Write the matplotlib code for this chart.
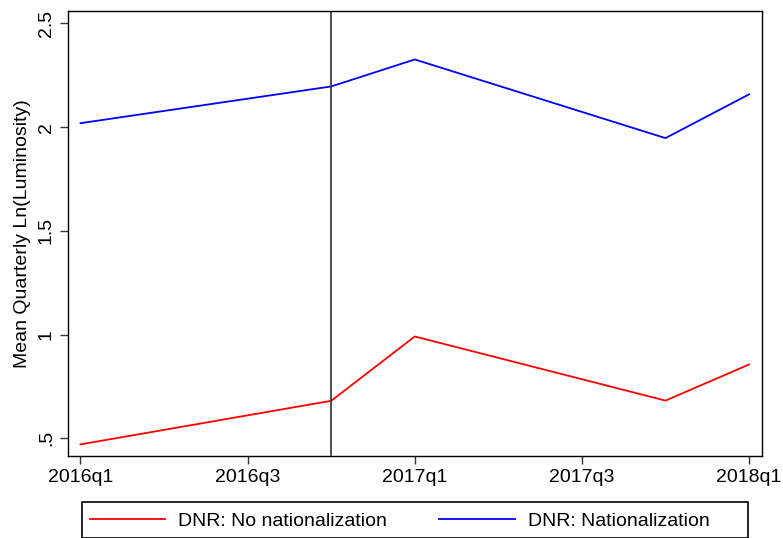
import numpy as np
import matplotlib.pyplot as plt
from matplotlib.patches import Rectangle

plt.rcParams['font.family'] = ['Liberation Sans', 'DejaVu Sans']

# quarters since 2016q1
quarters = [0, 3, 4, 7, 8]
no_nat = [0.471, 0.681, 0.991, 0.682, 0.856]
nat = [2.019, 2.196, 2.326, 1.947, 2.158]
xtick_pos = [0, 2, 4, 6, 8]
xtick_labels = ['2016q1', '2016q3', '2017q1', '2017q3', '2018q1']
ytick_pos = [0.5, 1, 1.5, 2, 2.5]
ytick_labels = ['.5', '1', '1.5', '2', '2.5']
event_q = 3

fig = plt.figure(figsize=(7.83, 5.38), dpi=100)
ax = fig.add_axes([0.0868, 0.1524, 0.8864, 0.8277])

l1, = ax.plot(quarters, no_nat, color='#ff0000', lw=1.3, label='DNR: No nationalization')
l2, = ax.plot(quarters, nat, color='#0000ff', lw=1.3, label='DNR: Nationalization')
ax.axvline(event_q, color='#333333', lw=1.2)

ax.set_xlim(-0.15, 8.155)
ax.set_ylim(0.415, 2.561)
ax.set_xticks(xtick_pos)
ax.set_xticklabels(xtick_labels, fontsize=14)
ax.set_yticks(ytick_pos)
ax.set_yticklabels(ytick_labels, fontsize=14, rotation=90, va='center')
ax.tick_params(direction='out', length=6, width=1, colors='#333333', labelcolor='black')
ax.set_ylabel('Mean Quarterly Ln(Luminosity)', fontsize=14, labelpad=5)
for s in ax.spines.values():
    s.set_linewidth(1)
    s.set_color('black')

# legend box drawn separately so entries sit like the Stata layout
fig.patches.append(Rectangle((82 / 783, 0.0), 666 / 783, 36 / 538, transform=fig.transFigure,
                             fill=False, edgecolor='black', lw=1.2))
leg = fig.legend(handles=[l1, l2], loc='center left', ncol=2,
                 bbox_to_anchor=(90 / 783, 17 / 538),
                 fontsize=14, handlelength=3.86, handletextpad=0.67, columnspacing=2.7,
                 frameon=False, borderpad=0, borderaxespad=0)

fig.savefig('out.png', dpi=100)
